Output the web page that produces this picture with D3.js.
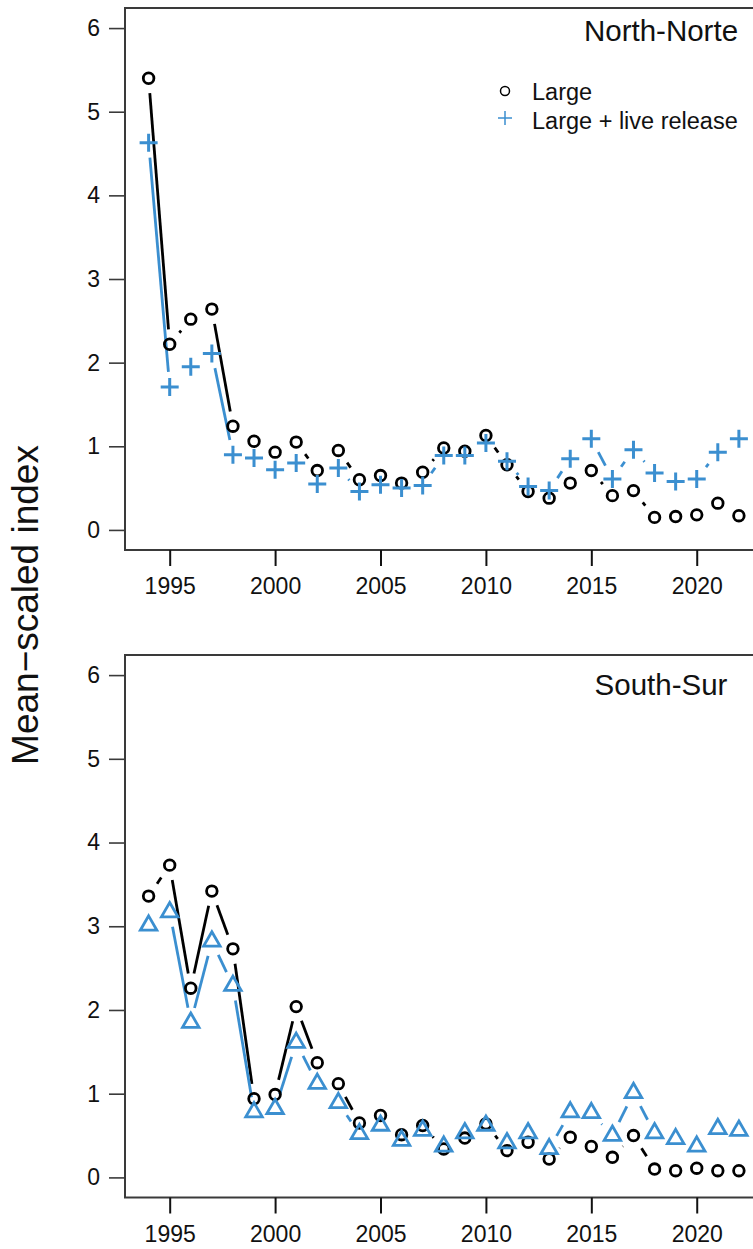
<!DOCTYPE html>
<html>
<head>
<meta charset="utf-8">
<script src="https://cdn.jsdelivr.net/npm/d3@7"></script>
<style>
  html, body { margin: 0; padding: 0; background: #fff; }
  svg { display: block; font-family: "Liberation Sans", Arial, sans-serif; }
</style>
</head>
<body>
<svg id="chart" width="753" height="1249"></svg>
<script>
// ---- data ----
const years = [1994,1995,1996,1997,1998,1999,2000,2001,2002,2003,2004,2005,2006,2007,2008,2009,2010,2011,2012,2013,2014,2015,2016,2017,2018,2019,2020,2021,2022];
const northLarge = [5.40,2.22,2.52,2.64,1.24,1.06,0.93,1.05,0.71,0.95,0.60,0.65,0.56,0.69,0.98,0.94,1.13,0.78,0.46,0.38,0.56,0.71,0.41,0.47,0.15,0.16,0.18,0.32,0.17];
const northLive  = [4.63,1.71,1.95,2.11,0.90,0.86,0.72,0.80,0.55,0.74,0.46,0.54,0.50,0.53,0.89,0.89,1.04,0.82,0.52,0.47,0.85,1.09,0.61,0.96,0.68,0.58,0.61,0.93,1.09];
const southLarge = [3.36,3.73,2.26,3.42,2.73,0.94,0.99,2.04,1.37,1.12,0.65,0.74,0.51,0.62,0.34,0.47,0.64,0.32,0.42,0.22,0.48,0.37,0.24,0.50,0.10,0.08,0.11,0.08,0.08];
const southLive  = [3.01,3.17,1.85,2.82,2.29,0.78,0.82,1.61,1.12,0.89,0.52,0.62,0.44,0.56,0.37,0.53,0.62,0.41,0.53,0.34,0.78,0.77,0.50,1.01,0.53,0.46,0.37,0.58,0.56];
const xTicks = [1995,2000,2005,2010,2015,2020];
const yTicks = [0,1,2,3,4,5,6];
const panelTitles = ["North-Norte","South-Sur"];
const legendLabels = ["Large","Large + live release"];
const yLabel = "Mean\u2212scaled index";

// ---- style ----
const BLACK = "#000000";
const BLUE = "#3b8fd0";
const BOX = "#3a3a3a";
const FONT_TICK = 23;

const svg = d3.select("#chart");
const x = d3.scaleLinear().domain([1992.88, 2023.12]).range([125, 762.5]);

const panels = [
  {top: 8, bottom: 550, title: panelTitles[0], titleY: 41, s1: northLarge, s2: northLive, m2: "plus", legend: true},
  {top: 655, bottom: 1197.5, title: panelTitles[1], titleY: 695, s1: southLarge, s2: southLive, m2: "tri", legend: false}
];

// R type="b": segments between points, leaving a gap around each point
function gapLines(g, xs, yAt, color, gap) {
  const pts = xs.map((v, i) => [x(v), yAt(i)]);
  for (let i = 0; i < pts.length - 1; i++) {
    const [x0, y0] = pts[i], [x1, y1] = pts[i + 1];
    const dx = x1 - x0, dy = y1 - y0;
    const len = Math.hypot(dx, dy);
    if (len <= 2 * gap) continue;
    const ux = dx / len, uy = dy / len;
    g.append("line")
      .attr("x1", x0 + ux * gap).attr("y1", y0 + uy * gap)
      .attr("x2", x1 - ux * gap).attr("y2", y1 - uy * gap)
      .attr("stroke", color).attr("stroke-width", 2.8).attr("stroke-linecap", "butt");
  }
}

function drawCircle(g, cx, cy, r, sw) {
  g.append("circle").attr("cx", cx).attr("cy", cy).attr("r", r)
    .attr("fill", "none").attr("stroke", BLACK).attr("stroke-width", sw);
}
function drawPlus(g, cx, cy, h, sw) {
  g.append("path").attr("d", `M${cx - h},${cy}H${cx + h}M${cx},${cy - h}V${cy + h}`)
    .attr("fill", "none").attr("stroke", BLUE).attr("stroke-width", sw);
}
function drawTri(g, cx, cy, side, sw) {
  const r = side / Math.sqrt(3);
  const p = [[cx, cy - r], [cx + side / 2, cy + r / 2], [cx - side / 2, cy + r / 2]];
  g.append("path").attr("d", "M" + p.map(q => q.join(",")).join("L") + "Z")
    .attr("fill", "none").attr("stroke", BLUE).attr("stroke-width", sw).attr("stroke-linejoin", "miter");
}

panels.forEach(p => {
  const y = d3.scaleLinear().domain([-0.24, 6.24]).range([p.bottom, p.top]);
  const g = svg.append("g");

  // box
  g.append("rect").attr("x", x.range()[0]).attr("y", p.top)
    .attr("width", x.range()[1] - x.range()[0]).attr("height", p.bottom - p.top)
    .attr("fill", "none").attr("stroke", BOX).attr("stroke-width", 2);

  // y axis
  const yAxis = d3.axisLeft(y).tickValues(yTicks).tickSize(16).tickPadding(9).tickFormat(d3.format("d"));
  const ya = g.append("g").attr("transform", `translate(${x.range()[0]},0)`).call(yAxis);
  ya.select(".domain").remove();
  ya.selectAll(".tick line").attr("stroke", BOX).attr("stroke-width", 1.6);
  ya.selectAll(".tick text").attr("font-size", FONT_TICK).attr("fill", "#111").attr("font-family", "Liberation Sans, Arial, sans-serif");

  // x axis
  const xAxis = d3.axisBottom(x).tickValues(xTicks).tickSize(16).tickPadding(12).tickFormat(d3.format("d"));
  const xa = g.append("g").attr("transform", `translate(0,${p.bottom})`).call(xAxis);
  xa.select(".domain").remove();
  xa.selectAll(".tick line").attr("stroke", "#111").attr("stroke-width", 2);
  xa.selectAll(".tick text").attr("font-size", FONT_TICK).attr("fill", "#111").attr("font-family", "Liberation Sans, Arial, sans-serif");

  // connecting lines
  gapLines(g, years, i => y(p.s1[i]), BLACK, 15);
  gapLines(g, years, i => y(p.s2[i]), BLUE, 15);

  // markers
  years.forEach((yr, i) => drawCircle(g, x(yr), y(p.s1[i]), 5.3, 2.8));
  years.forEach((yr, i) => {
    if (p.m2 === "plus") drawPlus(g, x(yr), y(p.s2[i]), 9, 3);
    else drawTri(g, x(yr), y(p.s2[i]), 16.5, 2.8);
  });

  // title
  g.append("text").attr("x", 661).attr("y", p.titleY).attr("text-anchor", "middle")
    .attr("font-size", 29.5).attr("fill", "#111").text(p.title);

  if (p.legend) {
    drawCircle(g, 505, 91, 4.5, 1.5);
    drawPlus(g, 505, 118, 7, 1.5);
    g.append("text").attr("x", 532).attr("y", 99.5).attr("font-size", 23.5).attr("fill", "#111").text(legendLabels[0]);
    g.append("text").attr("x", 532).attr("y", 128.5).attr("font-size", 23.5).attr("fill", "#111").text(legendLabels[1]);
  }
});

// y label
svg.append("text").attr("transform", "translate(38,605) rotate(-90)")
  .attr("text-anchor", "middle").attr("font-size", 37).attr("fill", "#111").text(yLabel);
</script>
</body>
</html>
